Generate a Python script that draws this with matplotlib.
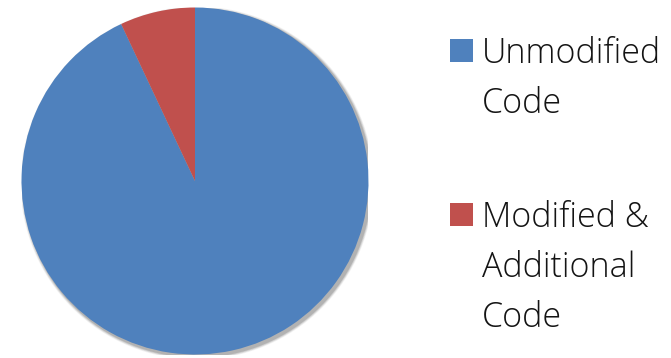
import matplotlib
matplotlib.use("Agg")
import matplotlib.pyplot as plt
from matplotlib.patches import Circle, Rectangle

labels = ["Unmodified\nCode", "Modified &\nAdditional\nCode"]
shares = [93, 7]
colors = ["#4f81bd", "#c0504d"]

plt.rcParams["font.family"] = ["Open Sans", "DejaVu Sans"]

W, H = 671, 358
fig = plt.figure(figsize=(W / 100, H / 100), dpi=100)

# pie centre and radius in pixels
cx, cy, r = 195, 358 - 181, 173.5
ax = fig.add_axes([(cx - r) / W, (cy - r) / H, 2 * r / W, 2 * r / H])

wedges, _ = ax.pie(shares, colors=colors, startangle=90, counterclock=False,
                   radius=1, wedgeprops=dict(linewidth=0))
for w in wedges:
    w.set_zorder(2)

# soft drop shadow behind the pie
for i, a in enumerate([0.05, 0.07, 0.09, 0.12]):
    grow = 0.018 - i * 0.004
    ax.add_patch(Circle((0.012, -0.012), 1 + grow, color="black", alpha=a, lw=0, zorder=0))

ax.set_xlim(-1, 1)
ax.set_ylim(-1, 1)
ax.set_aspect("equal")
ax.axis("off")

# legend: square + wrapped label, one text per line
tops = [39, 203]
line_gap = 50
for lab, col, top in zip(labels, colors, tops):
    fig.patches.append(Rectangle((450 / W, 1 - (top + 23) / H), 23 / W, 23 / H,
                                 transform=fig.transFigure, color=col, lw=0))
    for k, line in enumerate(lab.split("\n")):
        base = top + 24 + k * line_gap
        fig.text(482 / W, 1 - base / H, line, fontsize=24.5, color="#141414",
                 weight="light", va="baseline", ha="left")

fig.savefig("out.png", dpi=100)
